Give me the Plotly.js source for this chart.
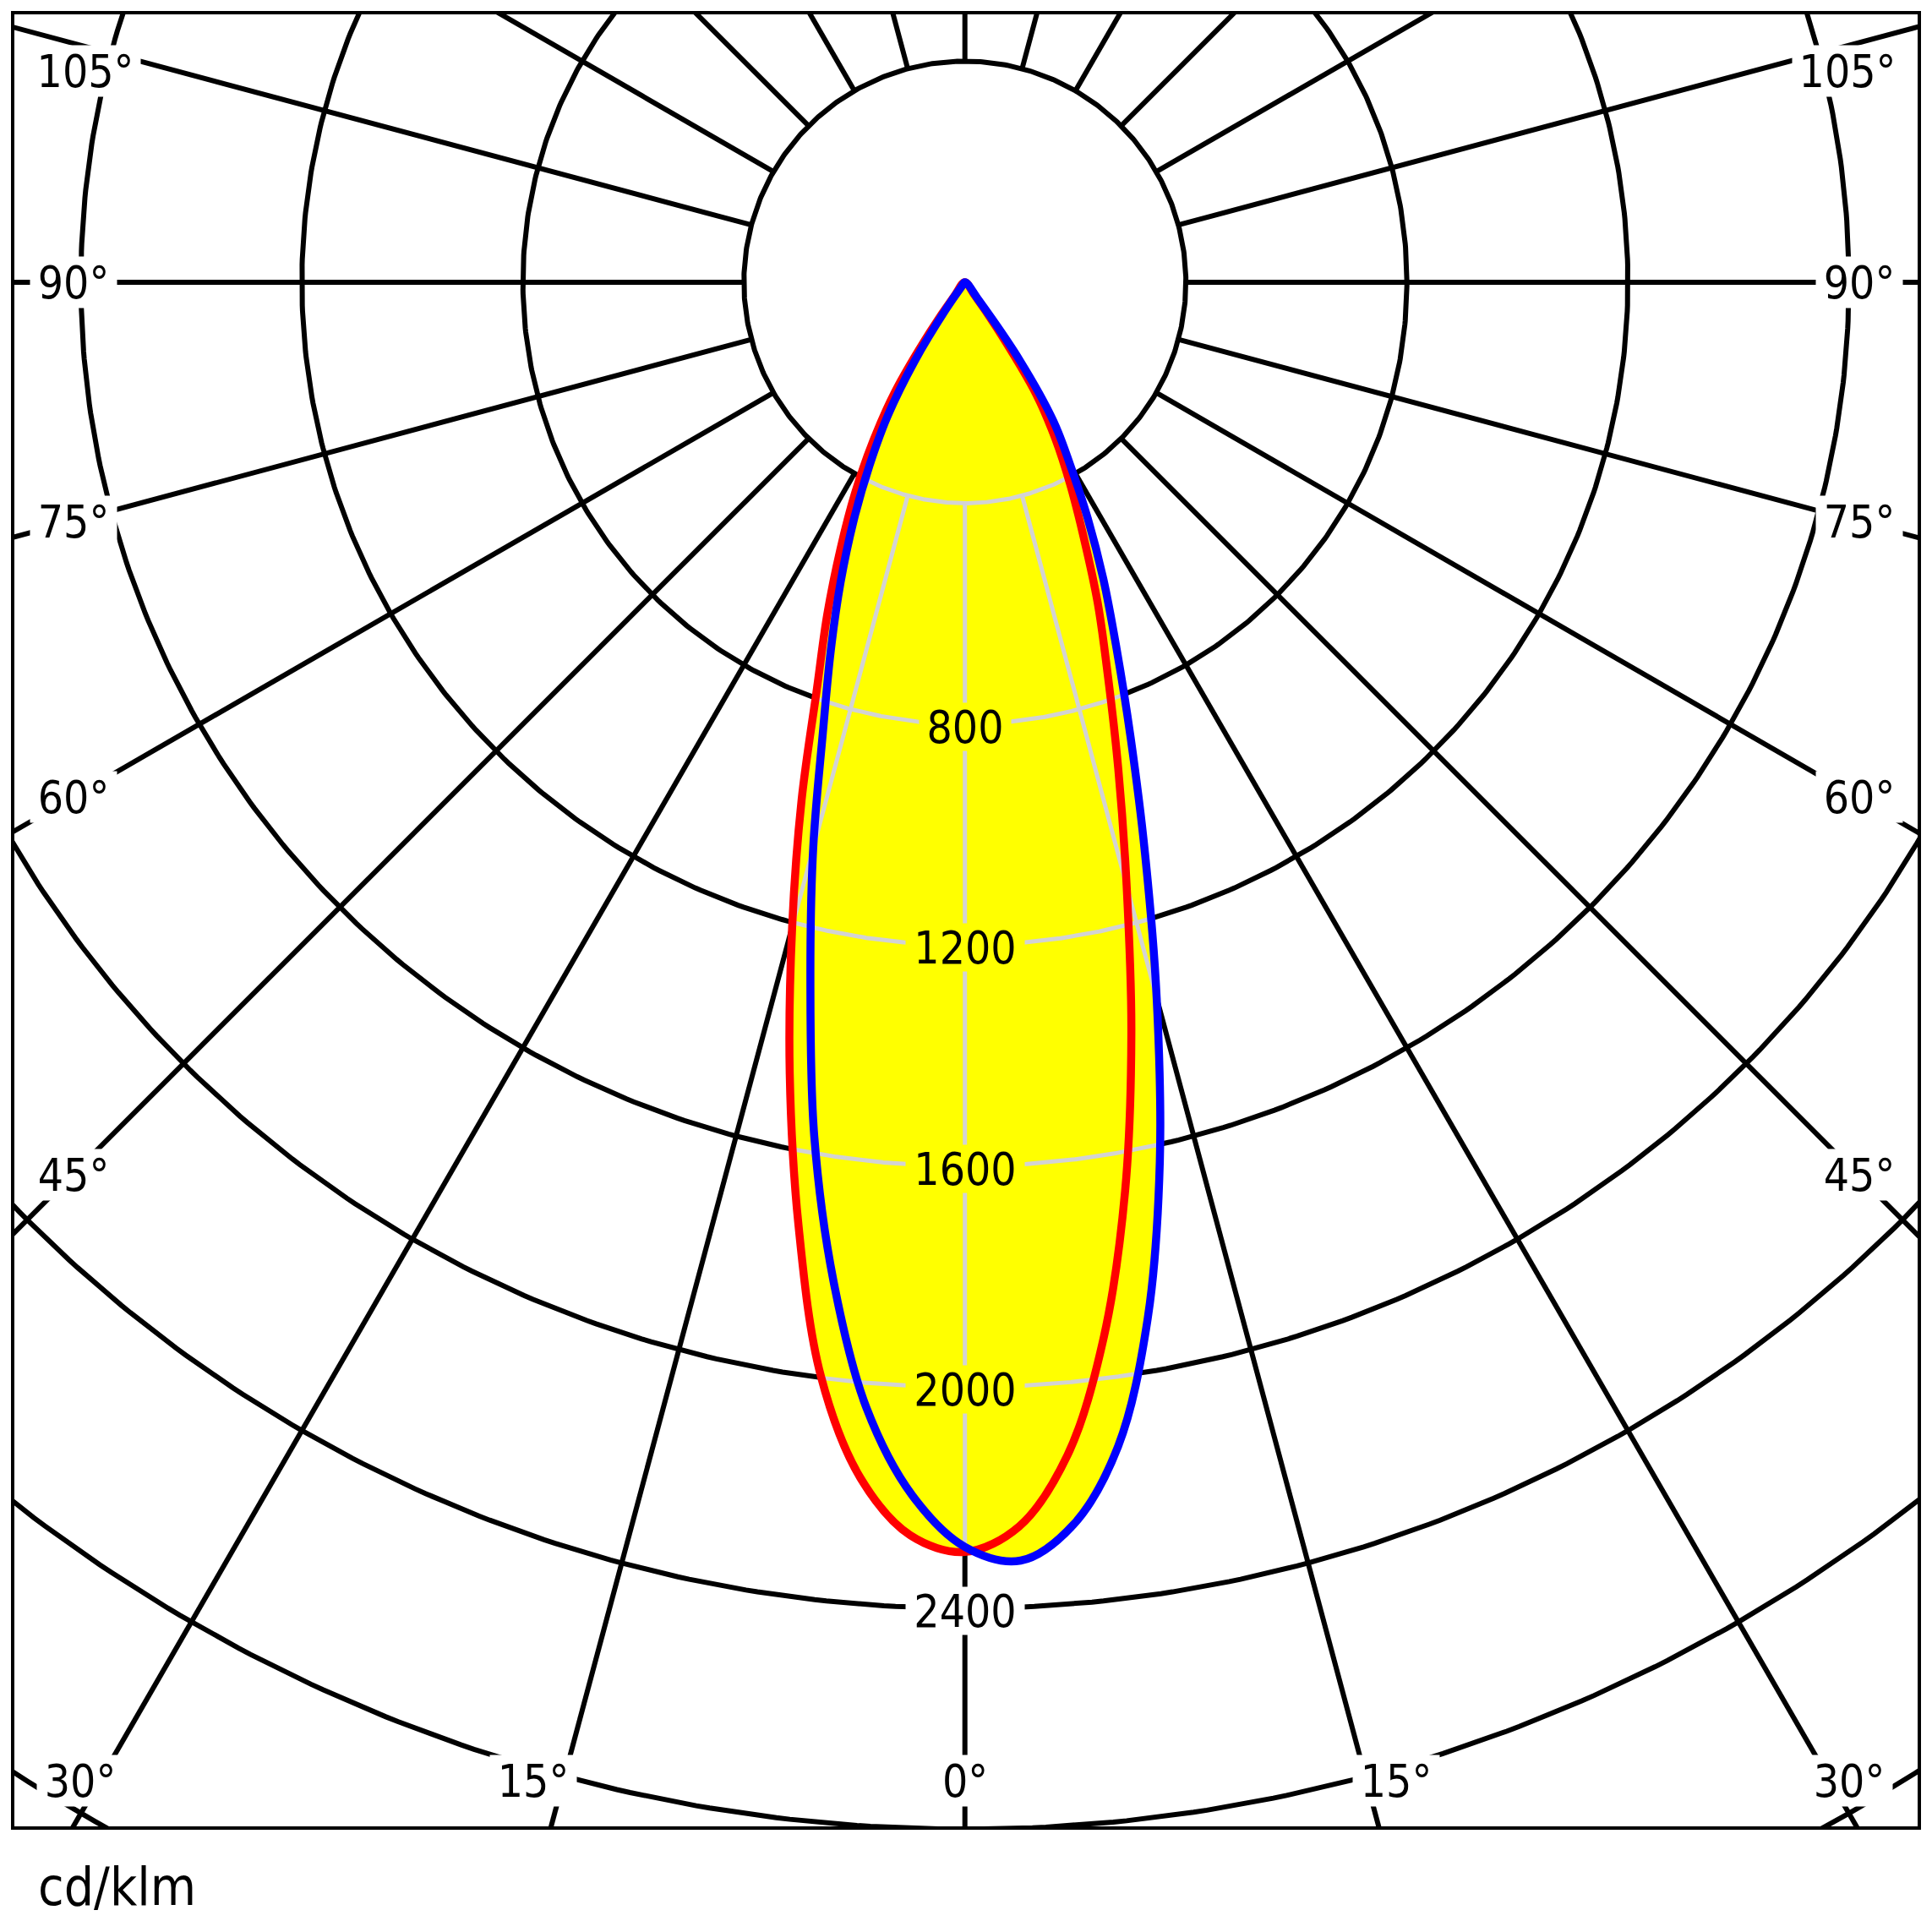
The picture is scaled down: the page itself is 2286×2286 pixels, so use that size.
<!DOCTYPE html>
<html>
<head>
<meta charset="utf-8">
<script src="https://cdn.plot.ly/plotly-3.0.1.min.js"></script>
<style>
html,body{margin:0;padding:0;background:#fff;}
#chart{width:2286px;height:2286px;}
</style>
</head>
<body>
<div id="chart"></div>
<script>
// ---------- DATA ----------
// gamma angle in degrees (0 = straight down, positive = right half)
const gammaDeg = [-40,-37.5,-35,-32.5,-30,-27.5,-25,-22.5,-20,-17.5,-15,-12.5,-10,-7.5,-5,-2.5,0,
                  2.5,5,7.5,10,12.5,15,17.5,20,22.5,25,27.5,30,32.5,35,37.5,40];
// red curve, cd/klm
const redCd = [0,30,110,235,332,431,533,651,783,983,1208,1465,1734,1997,2172,2270,2298,
               2254,2131,1926,1670,1392,1131,923,756,628,508,413,328,240,100,25,0];
// blue curve, cd/klm
const blueCd = [0,10,60,170,280,374,477,588,710,855,1061,1292,1570,1823,2045,2197,2289,
                2316,2257,2125,1905,1630,1341,1084,877,717,593,481,380,298,175,40,0];

// grid
const ringValues = [400,800,1200,1600,2000,2400,2800,3200];
const innerRing = 400;
const spokeAngles = [0,15,30,45,60,75,90,105,120,135,150,165,180,-15,-30,-45,-60,-75,-90,-105,-120,-135,-150,-165];
const valueLabels = ['800','1200','1600','2000','2400'];
const valueLabelRadii = [800,1200,1600,2000,2400];
const sideLabels = ['105°','90°','75°','60°','45°'];
const bottomLabels = ['30°','15°','0°','15°','30°'];
const unitLabel = 'cd/klm';

// ---------- geometry of the picture (pixels) ----------
const W = 2286, H = 2286;
const frame = {l:15, t:15, r:2271, b:2163};
const centerPx = {x:1141.7, y:333.9};
const pxPerCd = 0.65375;

const xMin = (frame.l - centerPx.x)/pxPerCd, xMax = (frame.r - centerPx.x)/pxPerCd;
const yMax = (centerPx.y - frame.t)/pxPerCd, yMin = (centerPx.y - frame.b)/pxPerCd;

const rad = d => d*Math.PI/180;
const polX = (g,r) => r*Math.sin(rad(g));
const polY = (g,r) => -r*Math.cos(rad(g));

function curveXY(vals){
  return {x: gammaDeg.map((g,i)=>polX(g,vals[i])), y: gammaDeg.map((g,i)=>polY(g,vals[i]))};
}
const red = curveXY(redCd), blue = curveXY(blueCd);

function pip(poly,x,y){
  let ins=false; const n=poly.x.length;
  for(let i=0,j=n-1;i<n;j=i++){
    const xi=poly.x[i], yi=poly.y[i], xj=poly.x[j], yj=poly.y[j];
    if(((yi>y)!==(yj>y)) && (x < (xj-xi)*(y-yi)/(yj-yi)+xi)) ins=!ins;
  }
  return ins;
}
const inLobe = (x,y) => pip(red,x,y) || pip(blue,x,y);

// black grid (full), later covered by the yellow lobe
const bx=[], by=[];
ringValues.forEach(R=>{
  for(let g=0; g<=360; g+=0.5){ bx.push(polX(g,R)); by.push(polY(g,R)); }
  bx.push(null); by.push(null);
});
spokeAngles.forEach(g=>{
  bx.push(polX(g,innerRing), polX(g,6000), null);
  by.push(polY(g,innerRing), polY(g,6000), null);
});

// grey grid: only inside the lobe
const gx=[], gy=[];
ringValues.filter(R=>R<=2400).forEach(R=>{
  let on=false;
  for(let g=-60; g<=60; g+=0.05){
    const x=polX(g,R), y=polY(g,R);
    if(inLobe(x,y)){ gx.push(x); gy.push(y); on=true; }
    else if(on){ gx.push(null); gy.push(null); on=false; }
  }
  gx.push(null); gy.push(null);
});
spokeAngles.filter(g=>Math.abs(g)<=45).forEach(g=>{
  let on=false;
  for(let r=innerRing; r<=2600; r+=1){
    const x=polX(g,r), y=polY(g,r);
    if(inLobe(x,y)){ gx.push(x); gy.push(y); on=true; }
    else if(on){ gx.push(null); gy.push(null); on=false; }
  }
  gx.push(null); gy.push(null);
});

const traces = [
  {x:bx, y:by, mode:'lines', line:{color:'#000', width:6}, hoverinfo:'skip', connectgaps:false},
  {x:red.x, y:red.y, mode:'lines', fill:'toself', fillcolor:'#ffff00', line:{width:0, color:'#ffff00', shape:'spline', smoothing:1}, hoverinfo:'skip'},
  {x:blue.x, y:blue.y, mode:'lines', fill:'toself', fillcolor:'#ffff00', line:{width:0, color:'#ffff00', shape:'spline', smoothing:1}, hoverinfo:'skip'},
  {x:gx, y:gy, mode:'lines', line:{color:'#d3d3d3', width:5}, hoverinfo:'skip', connectgaps:false},
  {x:red.x, y:red.y, mode:'lines', line:{color:'#ff0000', width:9.5, shape:'spline', smoothing:1, simplify:false}, hoverinfo:'skip'},
  {x:blue.x, y:blue.y, mode:'lines', line:{color:'#0000ff', width:9.5, shape:'spline', smoothing:1, simplify:false}, hoverinfo:'skip'}
];

const FONT = 'DejaVu Sans Condensed, Liberation Sans, Arial, sans-serif';
const px2paperX = px => (px - frame.l)/(frame.r - frame.l);
const px2paperY = py => (frame.b - py)/(frame.b - frame.t);

const annotations = [];
valueLabels.forEach((t,i)=>{
  const R = valueLabelRadii[i];
  annotations.push({x:0, y:-R, xref:'x', yref:'y', text:t, showarrow:false,
    font:{family:FONT, size:53, color:'#000'},
    bgcolor: R<2400 ? '#ffff00' : '#ffffff',
    width: t.length===3 ? 108 : 140, height:56, borderpad:0, yshift:-3});
});
const sideY = [84,334,617,943,1390];
sideLabels.forEach((t,i)=>{
  const w = t.length===4 ? 130 : 102;
  annotations.push({x:px2paperX(35), y:px2paperY(sideY[i]), xref:'paper', yref:'paper',
    xanchor:'left', yanchor:'middle', text:t, showarrow:false,
    font:{family:FONT, size:53, color:'#000'}, bgcolor:'#fff', width:w, height:60, borderpad:0});
  annotations.push({x:px2paperX(2252), y:px2paperY(sideY[i]), xref:'paper', yref:'paper',
    xanchor:'right', yanchor:'middle', text:t, showarrow:false,
    font:{family:FONT, size:53, color:'#000'}, bgcolor:'#fff', width:w, height:60, borderpad:0});
});
const bottomX = [95,631,1142,1652,2188];
bottomLabels.forEach((t,i)=>{
  annotations.push({x:px2paperX(bottomX[i]), y:px2paperY(2107), xref:'paper', yref:'paper',
    xanchor:'center', yanchor:'middle', text:t, showarrow:false,
    font:{family:FONT, size:53, color:'#000'}, bgcolor:'#fff', width: t.length===2 ? 68 : 102, height:60, borderpad:0});
});
annotations.push({x:px2paperX(43), y:px2paperY(2232), xref:'paper', yref:'paper',
  xanchor:'left', yanchor:'middle', text:unitLabel, showarrow:false,
  font:{family:FONT, size:62, color:'#000'}});

const layout = {
  width:W, height:H,
  margin:{l:frame.l, r:W-frame.r, t:frame.t, b:H-frame.b, pad:0},
  paper_bgcolor:'#ffffff', plot_bgcolor:'#ffffff',
  showlegend:false,
  xaxis:{range:[xMin,xMax], visible:false, fixedrange:true},
  yaxis:{range:[yMin,yMax], visible:false, fixedrange:true},
  shapes:[{type:'rect', xref:'paper', yref:'paper', x0:0, x1:1, y0:0, y1:1,
           line:{color:'#000', width:4}, layer:'above'}],
  annotations: annotations
};

Plotly.newPlot('chart', traces, layout, {staticPlot:true, displayModeBar:false});
</script>
</body>
</html>
